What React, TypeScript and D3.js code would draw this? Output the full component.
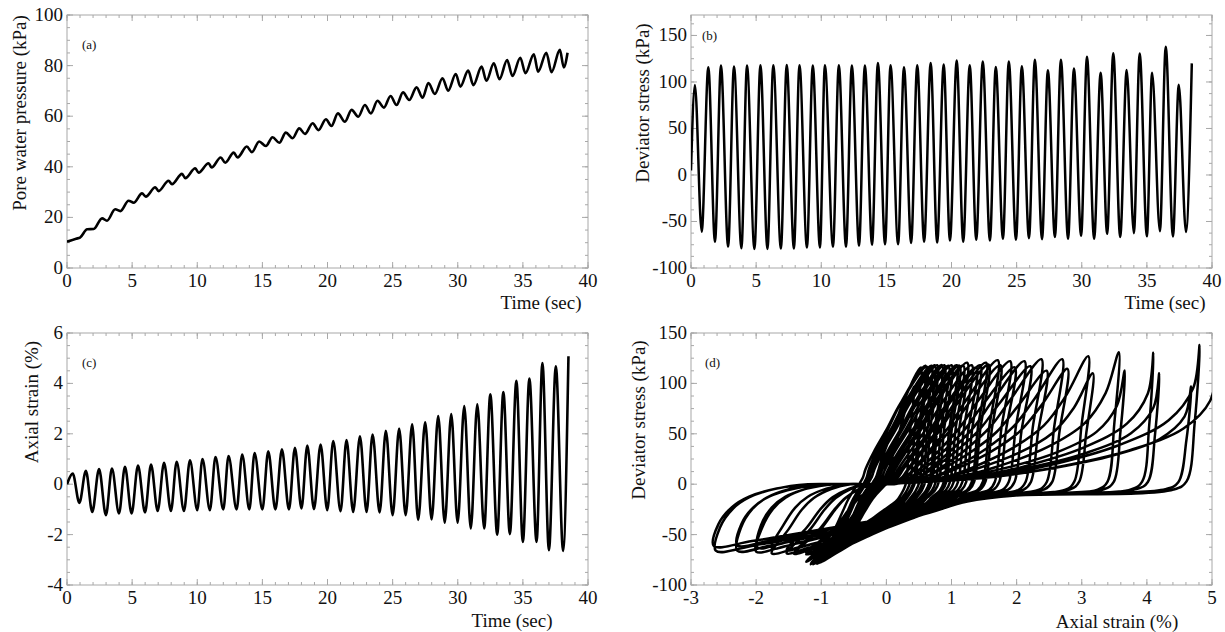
import React from 'react';
import * as d3 from 'd3';

// ---- tick labels ----
const timeTicks = [0, 5, 10, 15, 20, 25, 30, 35, 40];
const poreTicks = [0, 20, 40, 60, 80, 100];
const stressTicks = [-100, -50, 0, 50, 100, 150];
const strainTicksC = [-4, -2, 0, 2, 4, 6];
const strainTicksD = [-3, -2, -1, 0, 1, 2, 3, 4, 5];

// ---- deviator stress (kPa): one peak and one trough per load cycle ----
const stressStart: [number, number] = [0, 4.8];
const stressEnd: [number, number] = [38.45, 120];
const stressPeakTime = [0.3, 1.33, 2.3, 3.3, 4.3, 5.33, 6.32, 7.35, 8.33, 9.35, 10.28, 11.35, 12.35, 13.35, 14.35, 15.32, 16.35, 17.37, 18.4, 19.4, 20.4, 21.4, 22.4, 23.4, 24.4, 25.4, 26.4, 27.4, 28.4, 29.4, 30.4, 31.45, 32.42, 33.45, 34.45, 35.4, 36.45, 37.45];
const stressPeak = [96.8, 115.8, 117.6, 116.5, 117.6, 118, 118, 118.2, 118, 117.6, 118, 118, 117.6, 117.6, 120.5, 118, 115.8, 118, 120.5, 118.7, 123, 118, 122, 116, 122, 117, 124, 112.6, 124, 114.4, 127, 110, 131, 112.9, 130.5, 110, 138, 97];
const stressTroughTime = [0.82, 1.84, 2.85, 3.87, 4.87, 5.87, 6.9, 7.9, 8.9, 9.9, 10.9, 11.9, 12.9, 13.9, 14.9, 15.9, 16.9, 17.9, 18.9, 19.88, 20.9, 21.9, 22.95, 23.95, 24.95, 25.95, 26.95, 27.94, 28.95, 29.95, 30.95, 31.95, 32.95, 34.0, 35.0, 36.0, 37.0, 38.0];
const stressTrough = [-60.9, -71.7, -77, -78.8, -79.5, -79.5, -79, -79, -78, -78, -77, -77, -76, -75, -74.6, -74.6, -73, -71.7, -72.7, -70.5, -71.7, -69.6, -70.5, -68.6, -69.6, -68, -69, -66.8, -68.6, -65.4, -68.6, -63.3, -66.8, -62.6, -66, -60.6, -66, -61.3];

// ---- axial strain (%) ----
const strainStart: [number, number] = [0, 0];
const strainEnd: [number, number] = [38.5, 5.08];
const strainPeakTime = [0.44, 1.45, 2.46, 3.45, 4.45, 5.45, 6.45, 7.45, 8.42, 9.44, 10.4, 11.4, 12.4, 13.45, 14.4, 15.45, 16.5, 17.5, 18.45, 19.47, 20.44, 21.46, 22.49, 23.46, 24.48, 25.5, 26.5, 27.5, 28.5, 29.5, 30.5, 31.5, 32.5, 33.5, 34.5, 35.5, 36.5, 37.53];
const strainPeak = [0.42, 0.53, 0.6, 0.62, 0.69, 0.74, 0.78, 0.85, 0.89, 0.95, 1.0, 1.08, 1.12, 1.18, 1.24, 1.31, 1.38, 1.44, 1.53, 1.57, 1.71, 1.75, 1.9, 1.97, 2.12, 2.21, 2.38, 2.46, 2.7, 2.78, 3.1, 3.17, 3.57, 3.66, 4.1, 4.19, 4.81, 4.68];
const strainTroughTime = [0.95, 1.94, 2.99, 3.99, 4.96, 5.99, 6.96, 7.98, 8.98, 10.0, 10.97, 12.0, 13.02, 14.0, 15.0, 16.0, 17.04, 18.0, 18.96, 19.98, 21.0, 21.97, 23.0, 24.0, 25.0, 26.0, 26.96, 27.99, 29.0, 29.99, 31.0, 32.03, 33.03, 34.0, 35.0, 36.05, 37.0, 38.09];
const strainTrough = [-0.74, -1.1, -1.23, -1.16, -1.16, -1.12, -1.06, -1.06, -1.06, -1.03, -1.03, -1.0, -1.0, -1.0, -1.0, -1.0, -1.0, -0.96, -0.99, -1.03, -1.07, -1.1, -1.1, -1.12, -1.23, -1.23, -1.42, -1.4, -1.53, -1.53, -1.76, -1.76, -2.0, -1.98, -2.29, -2.29, -2.62, -2.65];

// ---- pore water pressure (kPa) ----
const poreEnd: [number, number] = [38.43, 85.1];
const poreHighTime = [0.7, 1.55, 2.69, 3.7, 4.73, 5.76, 6.78, 7.8, 8.83, 9.85, 10.87, 11.8, 12.8, 13.8, 14.75, 15.78, 16.8, 17.83, 18.86, 19.88, 20.8, 21.85, 22.87, 23.84, 24.84, 25.8, 26.84, 27.75, 28.83, 29.85, 30.8, 31.83, 32.77, 33.79, 34.8, 35.84, 36.8, 37.84];
const poreHigh = [11.6, 15.3, 19.6, 23.2, 26.6, 29.5, 31.9, 34.5, 37.2, 39.4, 41.4, 43.7, 45.6, 48, 50, 51.7, 53.5, 55.2, 57.2, 58.8, 61.1, 62.5, 64.4, 66.1, 68, 69.4, 71.4, 73.1, 75, 76.7, 78, 79.6, 80.9, 82.2, 83.1, 84.5, 85.1, 86.2];
const poreLowTime = [0, 1.0, 2.05, 3.07, 4.1, 5.12, 6.05, 7.03, 8.06, 9.08, 10.1, 11.1, 12.15, 13.1, 14.2, 15.27, 16.3, 17.32, 18.27, 19.3, 20.3, 21.34, 22.36, 23.33, 24.33, 25.3, 26.27, 27.3, 28.24, 29.26, 30.2, 31.2, 32.2, 33.2, 34.2, 35.2, 36.17, 37.2, 38.14];
const poreLow = [10.4, 12.0, 15.4, 18.7, 22.5, 25.8, 28.2, 30.4, 33.1, 35.5, 37.7, 39.7, 41.6, 43.7, 45.8, 48.2, 49.5, 51.3, 53, 54.5, 56.1, 57.8, 59.8, 61.1, 63.4, 64.4, 66.4, 67.3, 68.8, 70.1, 71.7, 72.3, 74.0, 74.6, 75.9, 77, 77.6, 77.4, 79.3];

// loop shape for panel (d): [stress fraction, strain position in a narrow loop, in a wide loop]
const unloadShape = [
  [1, 1, 1], [0.45, 0.94, 0.99], [0.02, 0.9, 0.973], [-0.08, 0.87, 0.946], [-0.17, 0.83, 0.62],
  [-0.26, 0.78, 0.52], [-0.47, 0.55, 0.42], [-0.7, 0.3, 0.25], [-0.92, 0.08, 0.08], [-1, 0, 0],
];
const reloadShape = [
  [-1, 0, 0], [-0.65, 0.21, 0.009], [-0.37, 0.3, 0.036], [-0.2, 0.35, 0.07], [-0.07, 0.4, 0.125],
  [0, 0.43, 0.194], [0, 0.44, 0.28], [0.02, 0.45, 0.42], [0.06, 0.47, 0.555], [0.13, 0.49, 0.667],
  [0.28, 0.56, 0.825], [0.46, 0.66, 0.933], [0.69, 0.78, 0.986], [1, 1, 1],
];

const FONT = "'Liberation Serif', 'Times New Roman', serif";
type Pt = [number, number];

function merge(start: Pt | null, t1: number[], v1: number[], t2: number[], v2: number[], end: Pt): Pt[] {
  const pts: Pt[] = [];
  if (start) pts.push(start);
  t1.forEach((t, i) => pts.push([t, v1[i]]));
  t2.forEach((t, i) => pts.push([t, v2[i]]));
  pts.sort((a, b) => a[0] - b[0]);
  pts.push(end);
  return pts;
}

function branch(shape: number[][], eLow: number, eHigh: number, sHigh: number, sLow: number): Pt[] {
  const R = eHigh - eLow;
  const w = Math.max(0, Math.min(1, (R - 1.8) / 4));
  return shape.slice(1).map(([f, a0, a1]) => {
    const a = a0 * (1 - w) + a1 * w;
    return [eLow + a * R, f >= 0 ? f * sHigh : -f * sLow] as Pt;
  });
}

function loopPoints(): Pt[] {
  const pts: Pt[] = [[0, stressStart[1]], [strainPeak[0], stressPeak[0]]];
  for (let k = 0; k < strainPeak.length; k++) {
    pts.push(...branch(unloadShape, strainTrough[k], strainPeak[k], stressPeak[k], stressTrough[k]));
    const last = k === strainPeak.length - 1;
    const ep = last ? strainEnd[1] : strainPeak[k + 1];
    const sp = last ? stressEnd[1] : stressPeak[k + 1];
    pts.push(...branch(reloadShape, strainTrough[k], ep, sp, stressTrough[k]));
  }
  return pts;
}

type PanelProps = {
  id: string;
  box: [number, number, number, number]; // left, right, top, bottom
  xDomain: [number, number];
  yDomain: [number, number];
  xTicks: number[];
  yTicks: number[];
  xMinor: number;
  yMinor: number;
  xTitle: string;
  xTitlePos: [number, number];
  yTitle: string;
  yTitlePos: [number, number];
  tag: string;
  tagPos: [number, number];
  data: Pt[];
  curve: d3.CurveFactory;
  width: number;
};

function Panel(p: PanelProps) {
  const [l, r, t, b] = p.box;
  const x = d3.scaleLinear().domain(p.xDomain).range([l, r]);
  const y = d3.scaleLinear().domain(p.yDomain).range([b, t]);
  const line = d3.line<Pt>().x((d) => x(d[0])).y((d) => y(d[1])).curve(p.curve);
  const xMinor = d3.range(p.xDomain[0], p.xDomain[1] + 1e-6, p.xMinor);
  const yMinor = d3.range(p.yDomain[0], p.yDomain[1] + 1e-6, p.yMinor);
  const grey = '#a8a8a8';
  return (
    <g>
      <defs>
        <clipPath id={p.id}>
          <rect x={l} y={t} width={r - l} height={b - t} />
        </clipPath>
      </defs>
      <rect x={l} y={t} width={r - l} height={b - t} fill="none" stroke={grey} strokeWidth={1} />
      {xMinor.map((v, i) => (
        <g key={'xm' + i} stroke={grey} strokeWidth={1}>
          <line x1={x(v)} x2={x(v)} y1={b} y2={b - 3} />
          <line x1={x(v)} x2={x(v)} y1={t} y2={t + 3} />
        </g>
      ))}
      {yMinor.map((v, i) => (
        <g key={'ym' + i} stroke={grey} strokeWidth={1}>
          <line x1={l} x2={l + 3} y1={y(v)} y2={y(v)} />
          <line x1={r} x2={r - 3} y1={y(v)} y2={y(v)} />
        </g>
      ))}
      {p.xTicks.map((v) => (
        <g key={'xt' + v}>
          <line x1={x(v)} x2={x(v)} y1={b} y2={b - 6} stroke={grey} />
          <line x1={x(v)} x2={x(v)} y1={t} y2={t + 6} stroke={grey} />
          <text x={x(v)} y={b + 19} textAnchor="middle" fontSize={19} fontFamily={FONT} fill="#111">
            {v}
          </text>
        </g>
      ))}
      {p.yTicks.map((v) => (
        <g key={'yt' + v}>
          <line x1={l} x2={l + 6} y1={y(v)} y2={y(v)} stroke={grey} />
          <line x1={r} x2={r - 6} y1={y(v)} y2={y(v)} stroke={grey} />
          <text x={l - 4} y={y(v) + 6} textAnchor="end" fontSize={19} fontFamily={FONT} fill="#111">
            {v}
          </text>
        </g>
      ))}
      <path d={line(p.data) || ''} fill="none" stroke="#000" strokeWidth={p.width} strokeLinejoin="round" clipPath={`url(#${p.id})`} />
      <text x={p.tagPos[0]} y={p.tagPos[1]} fontSize={13} fontFamily={FONT} fill="#111">
        {p.tag}
      </text>
      <text x={p.xTitlePos[0]} y={p.xTitlePos[1]} textAnchor="middle" fontSize={19} fontFamily={FONT} fill="#111">
        {p.xTitle}
      </text>
      <text
        transform={`translate(${p.yTitlePos[0]},${p.yTitlePos[1]}) rotate(-90)`}
        dy="0.33em"
        textAnchor="middle"
        fontSize={19}
        fontFamily={FONT}
        fill="#111"
      >
        {p.yTitle}
      </text>
    </g>
  );
}

export default function App() {
  const pore = merge(null, poreLowTime, poreLow, poreHighTime, poreHigh, poreEnd);
  const stress = merge(stressStart, stressPeakTime, stressPeak, stressTroughTime, stressTrough, stressEnd);
  const strain = merge(strainStart, strainPeakTime, strainPeak, strainTroughTime, strainTrough, strainEnd);
  const loops = loopPoints();

  return (
    <svg width={1225} height={632} style={{ position: 'absolute', left: 0, top: 0, background: '#fff' }}>
      <Panel
        id="pa" box={[67, 588, 15, 268]} xDomain={[0, 40]} yDomain={[0, 100]}
        xTicks={timeTicks} yTicks={poreTicks} xMinor={1} yMinor={5}
        xTitle="Time (sec)" xTitlePos={[541, 309]}
        yTitle="Pore water pressure (kPa)" yTitlePos={[20, 113]}
        tag="(a)" tagPos={[82, 49]} data={pore} curve={d3.curveMonotoneX} width={2.6}
      />
      <Panel
        id="pb" box={[691, 1212, 15, 268]} xDomain={[0, 40]} yDomain={[-100, 172]}
        xTicks={timeTicks} yTicks={stressTicks} xMinor={1} yMinor={12.5}
        xTitle="Time (sec)" xTitlePos={[1165, 309]}
        yTitle="Deviator stress (kPa)" yTitlePos={[643, 103]}
        tag="(b)" tagPos={[702, 40]} data={stress} curve={d3.curveMonotoneX} width={2.5}
      />
      <Panel
        id="pc" box={[67, 588, 333, 585]} xDomain={[0, 40]} yDomain={[-4, 6]}
        xTicks={timeTicks} yTicks={strainTicksC} xMinor={1} yMinor={0.5}
        xTitle="Time (sec)" xTitlePos={[512, 627]}
        yTitle="Axial strain (%)" yTitlePos={[32, 402]}
        tag="(c)" tagPos={[82, 367]} data={strain} curve={d3.curveMonotoneX} width={2.6}
      />
      <Panel
        id="pd" box={[691, 1212, 333, 585]} xDomain={[-3, 5]} yDomain={[-100, 150]}
        xTicks={strainTicksD} yTicks={stressTicks} xMinor={0.2} yMinor={12.5}
        xTitle="Axial strain (%)" xTitlePos={[1117, 628]}
        yTitle="Deviator stress (kPa)" yTitlePos={[639, 420]}
        tag="(d)" tagPos={[705, 367]} data={loops} curve={d3.curveCatmullRom.alpha(0.5)} width={2.5}
      />
    </svg>
  );
}
